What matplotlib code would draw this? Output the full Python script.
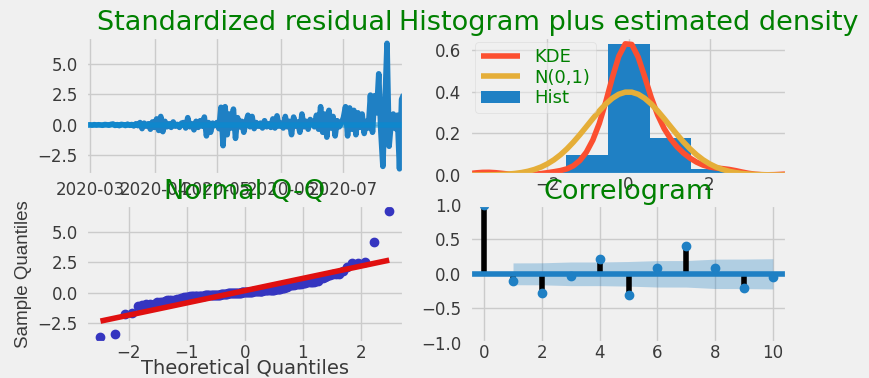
from statistics import NormalDist
import numpy as np
import pandas as pd
import matplotlib as mpl
mpl.use('Agg')
import matplotlib.pyplot as plt
import matplotlib.dates as mdates

# standardized residuals, one per day
resid = [
    # late Feb - Mar 24: almost flat
    0.0, 0.0, 0.01, -0.02, 0.03, -0.01, 0.02, 0.0, -0.03, 0.04, 0.02, -0.02, 0.05,
    0.08, -0.04, 0.03, -0.06, 0.05, 0.02, -0.05, 0.07, -0.03, 0.04, -0.08, 0.1, -0.06,
    # Mar 25 - Apr 14
    0.2, -0.3, 0.15, -0.1, 0.1, -0.35, 0.25, -0.2, 0.5, -0.45, 0.7, -0.55, 0.3,
    -0.15, 0.1, -0.2, 0.25, -0.1, 0.05, -0.2, 0.15,
    # Apr 15 - Apr 30
    0.2, -0.25, 0.6, -0.15, 0.1, -0.4, 0.3, -0.2, 0.35, -0.1, 0.65, -0.9, 0.2, -0.6, 0.15, -0.05,
    # May 1 - May 15
    0.2, -0.3, 1.45, -1.7, 1.5, -0.8, 0.9, -0.25, 1.3, -1.1, 0.6, -0.15, 0.3, -0.6, 0.2,
    # May 16 - May 31
    0.8, -0.15, 0.7, -0.3, 0.2, -0.1, 0.15, -0.25, 0.35, -0.15, 0.1, -0.2, 0.5, -0.25, 0.75, -0.1,
    # Jun 1 - Jun 15
    0.15, -0.25, 0.7, -0.15, 0.3, -0.8, 0.65, -0.1, 0.25, -0.6, 0.9, -0.15, 0.3, -0.35, 0.45,
    # Jun 16 - Jun 30
    0.2, -0.15, 0.8, -0.35, 1.5, -0.6, 0.9, -1.0, 1.2, -0.25, 0.7, -0.9, 0.35, -0.15, 0.15,
    # Jul 1 - Jul 13
    0.6, 1.5, -0.9, 1.4, -0.35, 1.2, -0.8, 1.0, -0.2, 0.9, -0.7, 0.3, -0.25,
    # Jul 14 - Jul 30
    2.45, -0.6, 2.4, 1.0, 4.2, -0.5, -3.4, 1.8, 6.7, -1.75, 0.2, 0.9, -0.3, 0.8, -3.6, 2.1, 2.5,
]
start_date = '2020-02-28'

# autocorrelations of the residuals, lags 0..10
acf_lags = list(range(11))
acf_vals = [1.0, -0.1, -0.28, -0.03, 0.22, -0.31, 0.08, 0.41, 0.09, -0.21, -0.04]

plt.style.use('fivethirtyeight')
plt.rcParams['text.color'] = 'green'
plt.rcParams['xtick.color'] = '#3a3a3a'
plt.rcParams['ytick.color'] = '#3a3a3a'
plt.rcParams['axes.labelcolor'] = '#3a3a3a'
plt.rcParams['xtick.labelsize'] = 12
plt.rcParams['ytick.labelsize'] = 12
plt.rcParams['xtick.major.pad'] = 1
plt.rcParams['ytick.major.pad'] = 6

blue = '#1f80c4'
r = np.array(resid)
n = len(r)
ix = pd.date_range(start_date, periods=n, freq='D')

fig, axes = plt.subplots(2, 2, figsize=(8.69, 3.78), dpi=100)
fig.subplots_adjust(left=0.099, right=0.906, top=0.902, bottom=0.093,
                    wspace=0.208, hspace=0.215)
tsize = 19.5

# standardized residuals over time
ax = axes[0, 0]
ax.plot(ix, r, lw=4, color=blue)
ax.hlines(0, ix[0], ix[-1], alpha=0.5)
ax.set_xlim(ix[0], ix[-1])
ax.set_yticks([-2.5, 0.0, 2.5, 5.0])
ax.xaxis.set_major_locator(mdates.MonthLocator())
ax.xaxis.set_major_formatter(mdates.DateFormatter('%Y-%m'))
ax.tick_params(axis='x', pad=4)
ax.set_title('Standardized residual', fontsize=tsize, pad=5)

# histogram + KDE + standard normal
ax = axes[0, 1]
xlim = (-1.96 * 2, 1.96 * 2)
_, _, bars = ax.hist(r, density=True, label='Hist', color=blue)
xs = np.linspace(xlim[0], xlim[1])
bw = n ** (-1.0 / 5) * r.std(ddof=1)
kde = np.exp(-0.5 * ((xs[:, None] - r[None, :]) / bw) ** 2).sum(axis=1)
kde = kde / (n * bw * np.sqrt(2 * np.pi))
l1, = ax.plot(xs, kde, label='KDE', color='#fc4f30')
l2, = ax.plot(xs, np.exp(-0.5 * xs ** 2) / np.sqrt(2 * np.pi), label='N(0,1)', color='#e5ae38')
ax.set_xlim(xlim)
ax.set_xticks([-2, 0, 2])
ax.set_yticks([0.0, 0.2, 0.4, 0.6])
ax.legend(handles=[l1, l2, bars[0]], labels=['KDE', 'N(0,1)', 'Hist'],
          loc='upper left', fontsize=13, framealpha=0.5, borderpad=0.3,
          handlelength=2.2, labelspacing=0.15, borderaxespad=0.3)
ax.set_title('Histogram plus estimated density', fontsize=tsize, pad=5)

# normal Q-Q with standardized reference line
ax = axes[1, 0]
nd = NormalDist()
theo = np.array([nd.inv_cdf(i / (n + 1)) for i in range(1, n + 1)])
samp = np.sort(r)
ax.plot(theo, samp, 'o', color='#3535c0', markersize=6)
ax.plot(theo, theo * samp.std() + samp.mean(), color='#e01010', lw=4)
ax.set_xticks([-2, -1, 0, 1, 2])
ax.set_yticks([-2.5, 0.0, 2.5, 5.0])
ax.set_xlabel('Theoretical Quantiles', fontsize=14, labelpad=-3)
ax.set_ylabel('Sample Quantiles', fontsize=13.5, labelpad=4,
              family=['Liberation Sans', 'DejaVu Sans'])
ax.set_title('Normal Q-Q', fontsize=tsize, pad=3)

# correlogram with Bartlett confidence band
ax = axes[1, 1]
acf = np.array(acf_vals)
lags = np.array(acf_lags)
band = 1.96 * np.sqrt((1 + 2 * np.concatenate([[0], np.cumsum(acf[1:-1] ** 2)])) / n)
ax.fill_between(lags[1:], -band, band, alpha=0.3, color=blue, lw=0)
ax.vlines(lags, 0, acf, colors='black', lw=4)
ax.axhline(0, color=blue, lw=4)
ax.plot(lags, acf, 'o', color=blue, markersize=6)
ax.set_xlim(-0.5, 10.5)
ax.set_ylim(-1, 1)
ax.set_yticks([-1.0, -0.5, 0.0, 0.5, 1.0])
ax.set_xticks([0, 2, 4, 6, 8, 10])
ax.set_title('Correlogram', fontsize=tsize, pad=3)

fig.savefig('out.png', dpi=100, facecolor=fig.get_facecolor())
